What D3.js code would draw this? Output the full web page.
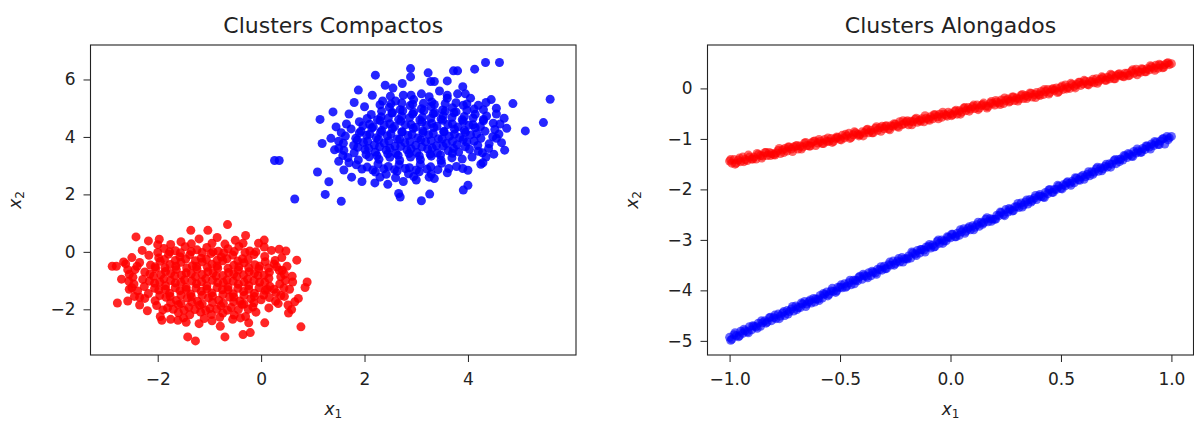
<!DOCTYPE html>
<html>
<head>
<meta charset="utf-8">
<script src="https://cdn.jsdelivr.net/npm/d3@7"></script>
<style>
    body { margin: 0; background: #fff; }
    svg { display: block; font-family: "DejaVu Sans", sans-serif; }
</style>
</head>
<body>
<svg id="chart" width="1194" height="423"></svg>
<script>
// ---- data ----

const titles = ['Clusters Compactos', 'Clusters Alongados'];

// left panel: two compact blobs, [x1, x2]
const compactRed = [
    [-1.55,0.35],[-1.2,0.45],[-0.85,0.5],[-0.5,0.4],
    [-2.88,-0.50],[-2.80,-0.50],[-2.66,-0.35],[-2.78,-1.78],[-2.58,-1.71],[-2.42,0.52],[-2.18,0.38],[-1.97,0.44],
    [-1.92,-2.38],[-1.42,-2.96],[-1.27,-3.10],[-0.70,-2.96],[-0.35,-2.88],[-0.21,-2.81],[0.07,-2.47],[0.77,-2.61],
    [0.89,-1.05],[0.85,-1.24],[0.61,-1.05],[0.69,-0.29],[0.48,0.03],[0.35,0.09],[0.06,0.41],[0.06,0.17],
    [-0.30,0.57],[-0.65,0.95],[-1.03,0.75],[-1.36,0.75],[0.53,-2.13],[0.65,-1.74],[0.59,-2.01],[0.33,-1.80],
    [0.41,-0.64],[-0.24,-2.47],[-0.79,-2.59],[-1.61,-2.38],
    [-2.62,-0.42],[-2.70,-0.95],[-2.55,-1.30],[-2.58,-0.62],[-2.45,-1.55],[-2.35,-1.85],[-2.20,-2.05],[-1.95,-2.25],
    [-1.75,-2.35],[-1.45,-2.45],[-1.20,-2.50],[-0.95,-2.40],[-0.55,-2.35],[-0.30,-2.25],[-0.10,-2.10],[0.15,-1.95],
    [0.45,-1.55],[0.55,-1.30],[0.60,-0.85],[0.50,-0.50],[0.40,-0.20],[0.20,0.05],[-0.05,0.30],[-2.00,0.25],
    [-2.30,0.05],[-2.50,-0.20],[0.72,-1.62],[0.52,-1.85],
    [-1.88,0.12],[-1.66,0.04],[-1.47,0.18],[-1.24,0.07],[-1.05,0.15],[-0.83,0.02],[-0.64,0.11],[-0.43,0.19],[-0.22,0.03],
    [-2.17,-0.12],[-1.98,-0.21],[-1.79,-0.08],[-1.57,-0.17],[-1.38,-0.10],[-1.16,-0.22],[-0.97,-0.06],[-0.77,-0.18],
    [-0.55,-0.11],[-0.36,-0.24],[-0.14,-0.09],[0.07,-0.16],
    [-2.35,-0.37],[-2.14,-0.46],[-1.95,-0.33],[-1.76,-0.44],[-1.55,-0.36],[-1.33,-0.48],[-1.14,-0.35],[-0.95,-0.43],
    [-0.74,-0.31],[-0.53,-0.47],[-0.33,-0.38],[-0.12,-0.45],[0.08,-0.34],[0.25,-0.42],
    [-2.44,-0.62],[-2.25,-0.70],[-2.04,-0.58],[-1.85,-0.68],[-1.64,-0.61],[-1.45,-0.73],[-1.24,-0.60],[-1.03,-0.69],
    [-0.84,-0.57],[-0.63,-0.72],[-0.44,-0.63],[-0.23,-0.69],[-0.04,-0.59],[0.16,-0.71],[0.35,-0.64],
    [-2.48,-0.88],[-2.29,-0.96],[-2.08,-0.85],[-1.88,-0.94],[-1.67,-0.83],[-1.48,-0.97],[-1.27,-0.87],[-1.07,-0.93],
    [-0.87,-0.84],[-0.66,-0.98],[-0.47,-0.86],[-0.26,-0.95],[-0.06,-0.82],[0.15,-0.92],[0.38,-0.87],
    [-2.46,-1.12],[-2.26,-1.21],[-2.06,-1.09],[-1.85,-1.18],[-1.66,-1.08],[-1.45,-1.23],[-1.25,-1.11],[-1.05,-1.19],
    [-0.84,-1.07],[-0.64,-1.22],[-0.44,-1.13],[-0.24,-1.17],[-0.03,-1.06],[0.17,-1.20],[0.36,-1.12],
    [-2.39,-1.36],[-2.18,-1.45],[-1.98,-1.33],[-1.77,-1.44],[-1.57,-1.35],[-1.36,-1.47],[-1.16,-1.37],[-0.95,-1.43],
    [-0.75,-1.32],[-0.54,-1.46],[-0.34,-1.38],[-0.13,-1.44],[0.08,-1.34],[0.29,-1.42],
    [-2.25,-1.62],[-2.05,-1.70],[-1.84,-1.58],[-1.64,-1.69],[-1.43,-1.61],[-1.23,-1.72],[-1.02,-1.60],[-0.82,-1.68],
    [-0.61,-1.57],[-0.41,-1.71],[-0.20,-1.63],[0.00,-1.67],[0.16,-1.59],
    [-2.02,-1.87],[-1.81,-1.95],[-1.60,-1.84],[-1.40,-1.93],[-1.19,-1.86],[-0.99,-1.97],[-0.78,-1.88],[-0.58,-1.94],
    [-0.37,-1.83],[-0.16,-1.92],
    [-1.60,-2.12],[-1.38,-2.19],[-1.17,-2.10],[-0.96,-2.18],[-0.74,-2.13],[-0.52,-2.20],
    [-1.87,-0.27],[-1.66,-0.30],[-1.46,-0.25],[-1.27,-0.31],[-1.06,-0.26],[-0.85,-0.29],[-0.66,-0.24],[-0.45,-0.32],[-0.25,-0.27],
    [-2.05,-0.52],[-1.86,-0.55],[-1.65,-0.50],[-1.44,-0.56],[-1.25,-0.51],[-1.04,-0.54],[-0.85,-0.49],[-0.64,-0.57],
    [-0.43,-0.52],[-0.24,-0.55],[-0.03,-0.50],[0.14,-0.56],
    [-2.15,-0.77],[-1.94,-0.80],[-1.75,-0.75],[-1.54,-0.81],[-1.35,-0.76],[-1.14,-0.79],[-0.93,-0.74],[-0.74,-0.82],
    [-0.53,-0.77],[-0.34,-0.80],[-0.13,-0.75],[0.06,-0.81],
    [-2.16,-1.02],[-1.96,-1.05],[-1.75,-1.00],[-1.55,-1.06],[-1.34,-1.01],[-1.15,-1.04],[-0.94,-0.99],[-0.73,-1.07],
    [-0.54,-1.02],[-0.33,-1.05],[-0.14,-1.00],[0.07,-1.06],
    [-2.06,-1.27],[-1.85,-1.30],[-1.66,-1.25],[-1.45,-1.31],[-1.26,-1.26],[-1.05,-1.29],[-0.85,-1.24],[-0.64,-1.32],
    [-0.45,-1.27],[-0.24,-1.30],[-0.04,-1.25],[0.12,-1.31],
    [-1.96,-1.52],[-1.76,-1.55],[-1.55,-1.50],[-1.35,-1.56],[-1.14,-1.51],[-0.94,-1.54],[-0.74,-1.49],[-0.53,-1.57],
    [-0.33,-1.52],[-0.13,-1.55],[0.05,-1.50],
    [-1.75,-1.77],[-1.55,-1.80],[-1.34,-1.75],[-1.14,-1.81],[-0.94,-1.76],[-0.73,-1.79],[-0.53,-1.74],[-0.33,-1.82],[-0.14,-1.77],
    [-2.00,-0.02],[-1.77,0.00],[-1.56,-0.03],[-1.35,0.01],[-1.14,-0.02],[-0.93,0.00],[-0.72,-0.03],[-0.52,0.01],
    [-0.31,-0.02],[-0.10,0.00],[-1.75,0.26],[-1.35,0.28],[-0.95,0.30],[-0.70,0.27],[-0.35,0.30],
    [-1.90,-2.02],[-1.70,-2.00],[-1.49,-2.03],[-1.28,-2.01],[-1.07,-2.04],[-0.86,-2.00],[-0.65,-2.03],[-0.44,-2.01],
    [-0.25,-2.00],[-1.50,-2.30],[-1.10,-2.32],[-0.80,-2.28],[-0.40,-2.30],
    [-2.55,-0.78],[-2.56,-1.02],[-2.50,-1.25],[-2.35,-1.58],[-2.40,-0.50],
    [0.30,-0.52],[0.45,-0.78],[0.47,-1.00],[0.44,-1.26],[0.38,-1.52],[0.28,-1.72],[0.27,-0.30],[0.25,-1.30]
];

const compactBlue = [
    [2.95,5.30],[3.30,5.22],[3.60,5.35],[2.60,5.25],
    [0.26,3.18],[0.35,3.18],[0.65,1.84],[1.14,4.61],[1.18,3.77],[1.09,2.78],[1.24,2.00],[1.31,2.44],[1.55,1.76],
    [1.39,4.87],[1.88,5.63],[2.21,6.15],[2.89,6.38],[2.89,6.09],[3.23,6.23],[3.28,5.93],[3.35,5.93],[3.72,6.30],
    [3.80,6.30],[4.13,6.36],[4.34,6.59],[4.61,6.59],[5.59,5.31],[5.46,4.50],[5.11,4.21],[4.87,5.16],[4.71,3.54],
    [3.10,1.78],[2.69,1.91],[3.26,2.01],[3.91,2.15],[4.00,2.32],[4.29,3.10],[4.00,2.84],[2.66,2.03],[2.73,5.86],[2.40,5.80],
    [1.45,4.35],[1.35,3.95],[1.42,3.55],[1.50,3.15],[1.60,2.85],[1.75,2.60],[1.95,2.45],[2.20,2.40],[2.45,2.35],
    [2.75,2.45],[3.00,2.50],[3.35,2.55],[3.60,2.75],[3.90,2.90],[4.25,3.05],[4.50,3.40],[4.65,3.80],[4.75,4.30],
    [4.70,4.65],[4.55,5.00],[4.35,5.20],[4.05,5.35],[3.80,5.50],[3.45,5.60],[3.10,5.50],[2.75,5.45],[2.35,5.25],
    [2.00,5.05],[1.70,4.80],[1.80,5.20],[2.15,5.45],[3.90,5.75],[3.60,5.95],[2.55,5.70],[4.30,4.95],[4.45,5.30],
    [2.48,5.03],[2.69,4.95],[2.88,5.09],[3.10,4.98],[3.29,5.06],[3.51,4.94],[3.70,5.02],[3.91,5.10],[4.12,4.97],
    [2.13,4.78],[2.32,4.70],[2.53,4.83],[2.72,4.72],[2.93,4.80],[3.12,4.69],[3.33,4.81],[3.52,4.74],[3.73,4.84],
    [3.93,4.71],[4.14,4.79],[4.36,4.73],
    [1.90,4.53],[2.10,4.44],[2.30,4.57],[2.49,4.46],[2.70,4.55],[2.90,4.43],[3.11,4.52],[3.30,4.47],[3.51,4.58],
    [3.70,4.45],[3.91,4.54],[4.10,4.42],[4.30,4.56],[4.49,4.48],
    [1.74,4.28],[1.93,4.20],[2.14,4.31],[2.33,4.22],[2.54,4.29],[2.73,4.18],[2.94,4.30],[3.13,4.21],[3.34,4.33],
    [3.53,4.19],[3.74,4.27],[3.93,4.23],[4.14,4.32],[4.33,4.20],[4.52,4.26],
    [1.63,4.03],[1.83,3.95],[2.04,4.06],[2.23,3.97],[2.44,4.04],[2.63,3.93],[2.84,4.05],[3.03,3.96],[3.24,4.08],
    [3.43,3.94],[3.64,4.02],[3.84,3.98],[4.05,4.07],[4.25,3.95],[4.48,4.01],
    [1.59,3.78],[1.79,3.70],[1.98,3.81],[2.19,3.72],[2.38,3.79],[2.59,3.68],[2.78,3.80],[2.99,3.71],[3.18,3.83],
    [3.39,3.69],[3.58,3.77],[3.79,3.73],[3.98,3.82],[4.19,3.70],[4.41,3.76],
    [1.60,3.53],[1.80,3.45],[2.01,3.56],[2.21,3.47],[2.42,3.54],[2.61,3.43],[2.82,3.55],[3.01,3.46],[3.22,3.58],
    [3.41,3.44],[3.62,3.52],[3.82,3.48],[4.03,3.57],[4.28,3.45],
    [1.68,3.28],[1.88,3.20],[2.09,3.31],[2.28,3.22],[2.49,3.29],[2.68,3.18],[2.89,3.30],[3.08,3.21],[3.29,3.33],
    [3.48,3.19],[3.69,3.27],[3.89,3.23],[4.08,3.30],
    [1.84,3.03],[2.05,2.95],[2.26,3.06],[2.46,2.97],[2.67,3.04],[2.87,2.93],[3.08,3.05],[3.28,2.96],[3.49,3.08],[3.78,2.97],
    [2.21,2.78],[2.42,2.70],[2.63,2.81],[2.85,2.72],[3.06,2.79],[3.29,2.71],
    [2.33,4.89],[2.54,4.85],[2.74,4.91],[2.95,4.86],[3.15,4.92],[3.36,4.84],[3.56,4.90],[3.77,4.87],[3.98,4.93],
    [2.05,4.64],[2.25,4.60],[2.46,4.66],[2.66,4.61],[2.87,4.67],[3.07,4.59],[3.28,4.65],[3.48,4.62],[3.69,4.68],
    [3.89,4.60],[4.10,4.66],[4.30,4.61],
    [1.97,4.39],[2.17,4.35],[2.38,4.41],[2.58,4.36],[2.79,4.42],[2.99,4.34],[3.20,4.40],[3.40,4.37],[3.61,4.43],
    [3.81,4.35],[4.02,4.41],[4.24,4.36],
    [1.90,4.14],[2.10,4.10],[2.31,4.16],[2.51,4.11],[2.72,4.17],[2.92,4.09],[3.13,4.15],[3.33,4.12],[3.54,4.18],
    [3.74,4.10],[3.95,4.16],[4.17,4.11],
    [1.86,3.89],[2.06,3.85],[2.27,3.91],[2.47,3.86],[2.68,3.92],[2.88,3.84],[3.09,3.90],[3.29,3.87],[3.50,3.93],
    [3.70,3.85],[3.91,3.91],[4.12,3.86],
    [1.87,3.64],[2.08,3.60],[2.29,3.66],[2.49,3.61],[2.70,3.67],[2.90,3.59],[3.11,3.65],[3.31,3.62],[3.52,3.68],
    [3.72,3.60],[3.95,3.66],
    [2.03,3.39],[2.24,3.35],[2.45,3.41],[2.65,3.36],[2.86,3.42],[3.06,3.34],[3.27,3.40],[3.47,3.37],[3.70,3.43],
    [2.30,5.12],[2.51,5.15],[2.72,5.18],[2.93,5.14],[3.14,5.17],[3.35,5.13],[3.56,5.16],[3.77,5.19],[3.98,5.15],
    [4.20,5.10],[2.50,5.42],[2.90,5.45],[3.25,5.40],[3.60,5.45],[3.95,5.50],
    [1.95,2.88],[2.16,2.85],[2.37,2.89],[2.58,2.86],[2.79,2.90],[3.00,2.85],[3.21,2.88],[3.42,2.86],[3.63,2.90],
    [2.30,2.60],[2.60,2.58],[2.95,2.62],[3.25,2.60],
    [1.55,4.15],[1.50,3.85],[1.50,3.60],[1.58,3.35],[1.70,3.10],[1.65,4.45],
    [4.60,4.10],[4.62,4.45],[4.55,4.80],[4.40,3.60],[4.35,3.30],[4.55,3.95],[4.20,3.50]
];

// right panel: two elongated clusters; first layer on a 0.01 grid of x1
const longX = [
    -1.00,-0.99,-0.98,-0.97,-0.96,-0.95,-0.94,-0.93,-0.92,-0.91,
    -0.90,-0.89,-0.88,-0.87,-0.86,-0.85,-0.84,-0.83,-0.82,-0.81,
    -0.80,-0.79,-0.78,-0.77,-0.76,-0.75,-0.74,-0.73,-0.72,-0.71,
    -0.70,-0.69,-0.68,-0.67,-0.66,-0.65,-0.64,-0.63,-0.62,-0.61,
    -0.60,-0.59,-0.58,-0.57,-0.56,-0.55,-0.54,-0.53,-0.52,-0.51,
    -0.50,-0.49,-0.48,-0.47,-0.46,-0.45,-0.44,-0.43,-0.42,-0.41,
    -0.40,-0.39,-0.38,-0.37,-0.36,-0.35,-0.34,-0.33,-0.32,-0.31,
    -0.30,-0.29,-0.28,-0.27,-0.26,-0.25,-0.24,-0.23,-0.22,-0.21,
    -0.20,-0.19,-0.18,-0.17,-0.16,-0.15,-0.14,-0.13,-0.12,-0.11,
    -0.10,-0.09,-0.08,-0.07,-0.06,-0.05,-0.04,-0.03,-0.02,-0.01,
    0.00,0.01,0.02,0.03,0.04,0.05,0.06,0.07,0.08,0.09,
    0.10,0.11,0.12,0.13,0.14,0.15,0.16,0.17,0.18,0.19,
    0.20,0.21,0.22,0.23,0.24,0.25,0.26,0.27,0.28,0.29,
    0.30,0.31,0.32,0.33,0.34,0.35,0.36,0.37,0.38,0.39,
    0.40,0.41,0.42,0.43,0.44,0.45,0.46,0.47,0.48,0.49,
    0.50,0.51,0.52,0.53,0.54,0.55,0.56,0.57,0.58,0.59,
    0.60,0.61,0.62,0.63,0.64,0.65,0.66,0.67,0.68,0.69,
    0.70,0.71,0.72,0.73,0.74,0.75,0.76,0.77,0.78,0.79,
    0.80,0.81,0.82,0.83,0.84,0.85,0.86,0.87,0.88,0.89,
    0.90,0.91,0.92,0.93,0.94,0.95,0.96,0.97,0.98,0.99,
    1.00
];

const longRedY = [
    -1.44,-1.48,-1.41,-1.48,-1.42,-1.45,-1.36,-1.41,-1.43,-1.36,
    -1.40,-1.36,-1.40,-1.31,-1.33,-1.34,-1.27,-1.33,-1.27,-1.29,
    -1.31,-1.28,-1.23,-1.29,-1.22,-1.19,-1.24,-1.16,-1.20,-1.16,
    -1.14,-1.20,-1.14,-1.16,-1.08,-1.13,-1.14,-1.08,-1.05,-1.13,
    -1.08,-1.05,-1.09,-1.01,-1.05,-1.05,-0.99,-1.05,-0.99,-0.97,
    -1.01,-0.93,-0.98,-0.94,-0.89,-0.97,-0.92,-0.88,-0.91,-0.92,
    -0.86,-0.88,-0.82,-0.88,-0.83,-0.88,-0.79,-0.83,-0.78,-0.75,
    -0.80,-0.74,-0.80,-0.74,-0.75,-0.71,-0.75,-0.66,-0.72,-0.70,
    -0.66,-0.72,-0.65,-0.66,-0.61,-0.67,-0.63,-0.60,-0.66,-0.59,
    -0.61,-0.56,-0.60,-0.52,-0.56,-0.51,-0.57,-0.51,-0.53,-0.47,
    -0.50,-0.52,-0.45,-0.51,-0.44,-0.47,-0.39,-0.44,-0.38,-0.41,
    -0.36,-0.40,-0.33,-0.39,-0.34,-0.29,-0.35,-0.36,-0.29,-0.30,
    -0.33,-0.27,-0.29,-0.23,-0.30,-0.24,-0.21,-0.25,-0.17,-0.24,
    -0.19,-0.21,-0.14,-0.20,-0.14,-0.16,-0.09,-0.17,-0.12,-0.08,
    -0.12,-0.06,-0.12,-0.06,-0.02,-0.08,-0.02,-0.04,0.01,-0.06,
    0.02,-0.02,0.07,0.02,0.00,0.08,0.04,0.08,0.12,0.06,
    0.09,0.14,0.08,0.14,0.13,0.11,0.19,0.14,0.18,0.21,
    0.16,0.22,0.19,0.26,0.19,0.25,0.28,0.25,0.24,0.30,
    0.30,0.26,0.34,0.30,0.38,0.33,0.32,0.38,0.33,0.39,
    0.37,0.43,0.40,0.46,0.40,0.46,0.41,0.47,0.50,0.47,
    0.49
];

const longBlueY = [
    -4.93,-4.97,-4.88,-4.90,-4.92,-4.81,-4.85,-4.80,-4.82,-4.72,
    -4.78,-4.71,-4.72,-4.65,-4.71,-4.64,-4.60,-4.63,-4.54,-4.60,
    -4.54,-4.56,-4.47,-4.51,-4.45,-4.50,-4.40,-4.42,-4.37,-4.41,
    -4.31,-4.34,-4.34,-4.27,-4.22,-4.27,-4.22,-4.25,-4.16,-4.17,
    -4.17,-4.10,-4.15,-4.08,-4.03,-4.08,-4.01,-4.02,-4.04,-3.94,
    -3.94,-3.95,-3.87,-3.92,-3.85,-3.89,-3.80,-3.80,-3.81,-3.72,
    -3.78,-3.71,-3.72,-3.65,-3.71,-3.64,-3.65,-3.58,-3.59,-3.60,
    -3.52,-3.57,-3.49,-3.50,-3.42,-3.47,-3.42,-3.44,-3.35,-3.38,
    -3.37,-3.32,-3.36,-3.26,-3.28,-3.21,-3.26,-3.19,-3.20,-3.14,
    -3.13,-3.16,-3.10,-3.13,-3.03,-3.07,-3.00,-3.02,-3.02,-2.95,
    -2.96,-2.89,-2.94,-2.87,-2.91,-2.84,-2.78,-2.83,-2.77,-2.80,
    -2.72,-2.75,-2.70,-2.73,-2.65,-2.66,-2.59,-2.64,-2.58,-2.59,
    -2.59,-2.51,-2.52,-2.46,-2.50,-2.40,-2.45,-2.40,-2.43,-2.35,
    -2.34,-2.36,-2.27,-2.31,-2.25,-2.29,-2.20,-2.22,-2.17,-2.20,
    -2.13,-2.14,-2.15,-2.06,-2.09,-2.00,-2.06,-2.00,-2.00,-1.94,
    -1.98,-1.91,-1.93,-1.85,-1.88,-1.84,-1.87,-1.78,-1.81,-1.75,
    -1.72,-1.75,-1.70,-1.73,-1.65,-1.66,-1.59,-1.64,-1.57,-1.59,
    -1.54,-1.56,-1.49,-1.50,-1.43,-1.49,-1.41,-1.40,-1.42,-1.34,
    -1.37,-1.31,-1.34,-1.25,-1.28,-1.24,-1.27,-1.19,-1.21,-1.14,
    -1.16,-1.10,-1.13,-1.07,-1.11,-1.04,-1.00,-1.10,-0.95,-0.98,
    -0.95
];

// second layer, between the first-layer x1 positions
const longX2 = [
    -0.995,-0.975,-0.955,-0.935,-0.915,-0.895,-0.875,-0.855,-0.835,-0.815,
    -0.795,-0.775,-0.755,-0.735,-0.715,-0.695,-0.675,-0.655,-0.635,-0.615,
    -0.595,-0.575,-0.555,-0.535,-0.515,-0.495,-0.475,-0.455,-0.435,-0.415,
    -0.395,-0.375,-0.355,-0.335,-0.315,-0.295,-0.275,-0.255,-0.235,-0.215,
    -0.195,-0.175,-0.155,-0.135,-0.115,-0.095,-0.075,-0.055,-0.035,-0.015,
    0.005,0.025,0.045,0.065,0.085,0.105,0.125,0.145,0.165,0.185,
    0.205,0.225,0.245,0.265,0.285,0.305,0.325,0.345,0.365,0.385,
    0.405,0.425,0.445,0.465,0.485,0.505,0.525,0.545,0.565,0.585,
    0.605,0.625,0.645,0.665,0.685,0.705,0.725,0.745,0.765,0.785,
    0.805,0.825,0.845,0.865,0.885,0.905,0.925,0.945,0.965,0.985
];

const longRedY2 = [
    -1.41,-1.50,-1.38,-1.45,-1.32,-1.40,-1.29,-1.38,-1.27,-1.33,
    -1.32,-1.19,-1.27,-1.16,-1.25,-1.13,-1.20,-1.07,-1.14,-1.04,
    -1.01,-1.09,-0.98,-1.07,-0.96,-1.02,-0.91,-0.99,-0.86,-0.94,
    -0.94,-0.81,-0.88,-0.76,-0.85,-0.75,-0.82,-0.70,-0.77,-0.64,
    -0.64,-0.72,-0.59,-0.65,-0.54,-0.63,-0.52,-0.60,-0.47,-0.55,
    -0.54,-0.43,-0.51,-0.38,-0.45,-0.33,-0.42,-0.32,-0.39,-0.26,
    -0.24,-0.32,-0.19,-0.27,-0.17,-0.25,-0.12,-0.20,-0.10,-0.18,
    -0.14,-0.02,-0.11,0.00,-0.08,0.05,-0.01,0.10,0.01,0.12,
    0.16,0.07,0.18,0.10,0.23,0.16,0.28,0.19,0.29,0.23,
    0.25,0.37,0.27,0.39,0.33,0.45,0.36,0.48,0.42,0.51
];

const longBlueY2 = [
    -4.99,-4.84,-4.90,-4.77,-4.84,-4.70,-4.75,-4.60,-4.65,-4.53,
    -4.49,-4.56,-4.42,-4.47,-4.32,-4.38,-4.25,-4.32,-4.19,-4.23,
    -4.20,-4.06,-4.11,-3.96,-4.01,-3.89,-3.94,-3.80,-3.87,-3.74,
    -3.68,-3.75,-3.62,-3.68,-3.53,-3.57,-3.44,-3.50,-3.37,-3.44,
    -3.38,-3.24,-3.31,-3.19,-3.24,-3.09,-3.14,-3.00,-3.07,-2.94,
    -2.89,-2.94,-2.80,-2.87,-2.74,-2.80,-2.65,-2.69,-2.56,-2.63,
    -2.59,-2.45,-2.52,-2.38,-2.42,-2.28,-2.35,-2.21,-2.25,-2.12,
    -2.10,-2.16,-2.01,-2.06,-1.92,-1.99,-1.87,-1.92,-1.77,-1.82,
    -1.80,-1.65,-1.70,-1.56,-1.63,-1.50,-1.56,-1.41,-1.45,-1.33,
    -1.29,-1.35,-1.20,-1.26,-1.14,-1.20,-1.05,-1.11,-0.99,-1.02
];

const leftXTicks = [-2, 0, 2, 4];
const leftYTicks = [-2, 0, 2, 4, 6];
const rightXTicks = [-1.0, -0.5, 0.0, 0.5, 1.0];
const rightYTicks = [-5, -4, -3, -2, -1, 0];

// ---- drawing ----

const svg = d3.select('#chart');
const plotTop = 45, plotBottom = 355;
const tickFont = '17px';
const minus = v => (v < 0 ? '\u2212' : '') + Math.abs(v);
const minus1 = v => (v < 0 ? '\u2212' : '') + Math.abs(v).toFixed(1);
const zipXY = (xs, ys) => xs.map((v, i) => [v, ys[i]]);

function drawPanel(opts) {
    const x = d3.scaleLinear().domain(opts.xDomain).range([opts.left, opts.right]);
    const y = d3.scaleLinear().domain(opts.yDomain).range([plotBottom, plotTop]);

    const marks = svg.append('g');
    opts.series.forEach(s => {
        marks.append('g')
            .selectAll('circle')
            .data(s.points)
            .enter()
            .append('circle')
            .attr('cx', d => x(d[0]))
            .attr('cy', d => y(d[1]))
            .attr('r', 4.5)
            .attr('fill', s.color)
            .attr('fill-opacity', s.alpha);
    });

    const gx = svg.append('g')
        .attr('transform', `translate(0, ${plotBottom})`)
        .call(d3.axisBottom(x).tickValues(opts.xTicks).tickSize(7).tickPadding(11).tickFormat(opts.xFormat));
    const gy = svg.append('g')
        .attr('transform', `translate(${opts.left}, 0)`)
        .call(d3.axisLeft(y).tickValues(opts.yTicks).tickSize(7).tickPadding(8).tickFormat(opts.yFormat));

    [gx, gy].forEach(g => {
        g.select('.domain').remove();
        g.attr('font-family', null).attr('font-size', null);
        g.selectAll('line').attr('stroke', '#222').attr('stroke-width', 1);
        g.selectAll('text')
            .attr('fill', '#222')
            .style('font-size', tickFont);
    });

    svg.append('rect')
        .attr('x', opts.left)
        .attr('y', plotTop)
        .attr('width', opts.right - opts.left)
        .attr('height', plotBottom - plotTop)
        .attr('fill', 'none')
        .attr('stroke', '#222')
        .attr('stroke-width', 1.1);

    const cx = (opts.left + opts.right) / 2;
    svg.append('text')
        .attr('x', cx)
        .attr('y', 33)
        .attr('text-anchor', 'middle')
        .attr('fill', '#222')
        .style('font-size', '22px')
        .text(opts.title);

    // x label: $x_1$
    const xl = svg.append('text')
        .attr('x', cx)
        .attr('y', 415)
        .attr('text-anchor', 'middle')
        .attr('fill', '#222')
        .style('font-size', tickFont);
    xl.append('tspan').attr('font-style', 'italic').text('x');
    xl.append('tspan').attr('dy', '0.25em').style('font-size', '12px').text('1');

    // y label: $x_2$
    const yl = svg.append('text')
        .attr('transform', `translate(${opts.left - 70}, ${(plotTop + plotBottom) / 2}) rotate(-90)`)
        .attr('text-anchor', 'middle')
        .attr('fill', '#222')
        .style('font-size', tickFont);
    yl.append('tspan').attr('font-style', 'italic').text('x');
    yl.append('tspan').attr('dy', '0.25em').style('font-size', '12px').text('2');
}

drawPanel({
    title: titles[0],
    left: 90.5, right: 576,
    xDomain: [-3.30, 6.09], yDomain: [-3.59, 7.20],
    xTicks: leftXTicks, yTicks: leftYTicks,
    xFormat: minus, yFormat: minus,
    series: [
        {points: compactRed, color: '#ff0000', alpha: 0.85},
        {points: compactBlue, color: '#0000ff', alpha: 0.85}
    ]
});

drawPanel({
    title: titles[1],
    left: 707.5, right: 1193.5,
    xDomain: [-1.1, 1.1], yDomain: [-5.28, 0.86],
    xTicks: rightXTicks, yTicks: rightYTicks,
    xFormat: minus1, yFormat: minus,
    series: [
        {points: zipXY(longX, longRedY).concat(zipXY(longX2, longRedY2)), color: '#ff0000', alpha: 0.6},
        {points: zipXY(longX, longBlueY).concat(zipXY(longX2, longBlueY2)), color: '#0000ff', alpha: 0.6}
    ]
});
</script>
</body>
</html>
